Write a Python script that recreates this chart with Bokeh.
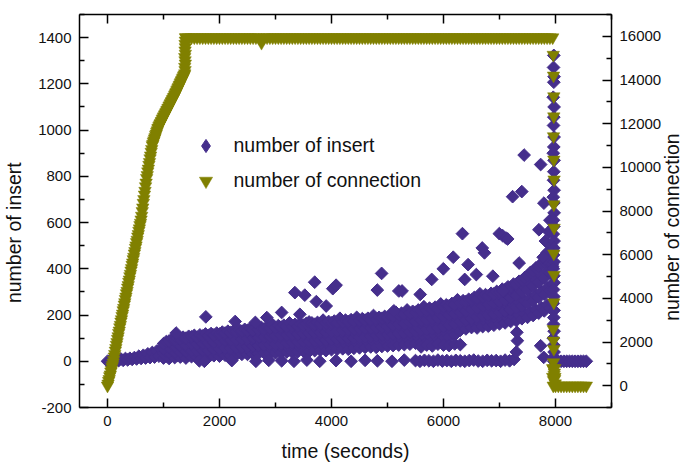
import math
from bokeh.plotting import figure
from bokeh.models import Range1d, LinearAxis, FixedTicker, Legend, LegendItem
from bokeh.embed import file_html
from bokeh.resources import INLINE

PURPLE = "#452e8c"
OLIVE = "#808000"
FONT = "Liberation Sans"
NBSP = "\u00a0"

# ---------------- number of connection (right axis) ----------------
conn_ramp_time = [0, 10, 20, 30, 40, 50, 60, 70, 80, 90, 100,
                  110, 120, 130, 140, 150, 160, 170, 180, 190, 200,
                  210, 220, 230, 240, 250, 260, 270, 280, 290, 300,
                  310, 320, 330, 340, 350, 360, 370, 380, 390, 400,
                  410, 420, 430, 440, 450, 460, 470, 480, 490, 500,
                  510, 520, 530, 540, 550, 560, 570, 580, 590, 600,
                  610, 620, 630, 640, 650, 660, 670, 680, 690, 700,
                  710, 720, 730, 740, 750, 760, 770, 780, 790, 800,
                  810, 820, 830, 840, 850, 860, 870, 880, 890, 900,
                  910, 920, 930, 940, 950, 960, 970, 980, 990, 1000,
                  1010, 1020, 1030, 1040, 1050, 1060, 1070, 1080, 1090, 1100,
                  1110, 1120, 1130, 1140, 1150, 1160, 1170, 1180, 1190, 1200,
                  1210, 1220, 1230, 1240, 1250, 1260, 1270, 1280, 1290, 1300,
                  1310, 1320, 1330, 1340, 1350, 1360, 1370, 1380,
                  1385, 1380, 1390, 1385, 1380, 1390, 1385, 1390, 1385, 1390, 1395]
conn_ramp_value = [0, 90, 215, 300, 430, 510, 640, 720, 850, 940, 1060,
                   1180, 1330, 1450, 1600, 1720, 1870, 1990, 2140, 2260, 2410,
                   2520, 2670, 2780, 2930, 3040, 3190, 3300, 3450, 3560, 3710,
                   3820, 3970, 4080, 4230, 4340, 4490, 4600, 4750, 4860, 5010,
                   5120, 5270, 5380, 5530, 5640, 5790, 5900, 6050, 6160, 6310,
                   6420, 6570, 6680, 6830, 6940, 7090, 7200, 7350, 7460, 7610,
                   7780, 7990, 8160, 8370, 8540, 8750, 8920, 9130, 9300, 9510,
                   9640, 9810, 9940, 10110, 10240, 10410, 10540, 10710, 10840, 11010,
                   11070, 11170, 11230, 11320, 11380, 11480, 11540, 11630, 11690, 11790,
                   11820, 11890, 11930, 12000, 12030, 12100, 12130, 12210, 12240, 12310,
                   12340, 12410, 12440, 12510, 12540, 12610, 12640, 12710, 12740, 12810,
                   12840, 12910, 12940, 13010, 13040, 13110, 13140, 13210, 13240, 13310,
                   13350, 13420, 13460, 13530, 13570, 13640, 13680, 13750, 13790, 13860,
                   13900, 13970, 14010, 14080, 14120, 14190, 14230, 14300,
                   14450, 14600, 14750, 14900, 15050, 15200, 15350, 15500, 15650, 15800, 15950]

conn_plateau_time = [1400, 1450, 1500, 1550, 1600, 1650, 1700, 1750, 1800, 1850,
                     1900, 1950, 2000, 2050, 2100, 2150, 2200, 2250, 2300, 2350,
                     2400, 2450, 2500, 2550, 2600, 2650, 2700, 2750, 2800, 2850,
                     2900, 2950, 3000, 3050, 3100, 3150, 3200, 3250, 3300, 3350,
                     3400, 3450, 3500, 3550, 3600, 3650, 3700, 3750, 3800, 3850,
                     3900, 3950, 4000, 4050, 4100, 4150, 4200, 4250, 4300, 4350,
                     4400, 4450, 4500, 4550, 4600, 4650, 4700, 4750, 4800, 4850,
                     4900, 4950, 5000, 5050, 5100, 5150, 5200, 5250, 5300, 5350,
                     5400, 5450, 5500, 5550, 5600, 5650, 5700, 5750, 5800, 5850,
                     5900, 5950, 6000, 6050, 6100, 6150, 6200, 6250, 6300, 6350,
                     6400, 6450, 6500, 6550, 6600, 6650, 6700, 6750, 6800, 6850,
                     6900, 6950, 7000, 7050, 7100, 7150, 7200, 7250, 7300, 7350,
                     7400, 7450, 7500, 7550, 7600, 7650, 7700, 7750, 7800, 7850,
                     7900, 7950]
conn_plateau_value = [15950, 15950, 15950, 15950, 15950, 15950, 15950, 15950, 15950, 15950,
                      15950, 15950, 15950, 15950, 15950, 15950, 15950, 15950, 15950, 15950,
                      15950, 15950, 15950, 15950, 15950, 15950, 15950, 15700, 15950, 15950,
                      15950, 15950, 15950, 15950, 15950, 15950, 15950, 15950, 15950, 15950,
                      15950, 15950, 15950, 15950, 15950, 15950, 15950, 15950, 15950, 15950,
                      15950, 15950, 15950, 15950, 15950, 15950, 15950, 15950, 15950, 15950,
                      15950, 15950, 15950, 15950, 15950, 15950, 15950, 15950, 15950, 15950,
                      15950, 15950, 15950, 15950, 15950, 15950, 15950, 15950, 15950, 15950,
                      15950, 15950, 15950, 15950, 15950, 15950, 15950, 15950, 15950, 15950,
                      15950, 15950, 15950, 15950, 15950, 15950, 15950, 15950, 15950, 15950,
                      15950, 15950, 15950, 15950, 15950, 15950, 15950, 15950, 15950, 15950,
                      15950, 15950, 15950, 15950, 15950, 15950, 15950, 15950, 15950, 15950,
                      15950, 15950, 15950, 15950, 15950, 15950, 15950, 15950, 15950, 15950,
                      15950, 15950]

conn_drop_time = [7960, 7965, 7970, 7970, 7965, 7970, 7975, 7970, 7975, 7970, 7975, 7970,
                  7960, 7965, 7970, 7965, 7960, 7975, 7965, 7960, 7980, 7985, 7950, 7990,
                  7950, 7990, 7995]
conn_drop_value = [15150, 14200, 13250, 12330, 11420, 10350, 9440, 8300, 7230, 6050, 5070, 3810,
                   2590, 2060, 1680, 1070, 760, 500, 250, 0, 600, 300, 800, 800,
                   400, 400, 100]

conn_end_time = [8000, 8050, 8100, 8150, 8200, 8250, 8300, 8350, 8400, 8450, 8500, 8550]
conn_end_value = [0, 0, 0, 0, 0, 0, 0, 0, 0, 0, 0, 0]

# ---------------- number of insert (left axis) ----------------
insert_early_time = [0, 40, 80, 120, 160, 200, 240, 280, 320, 360, 400, 440, 480,
                     520, 560, 600, 640, 680, 720, 760, 800, 840, 880, 920, 960]
insert_early_value = [0, 2, 5, 0, 8, 3, 10, 4, 12, 6, 13, 8, 16,
                      10, 22, 12, 26, 14, 32, 16, 38, 18, 44, 22, 52]

band_time = [1000, 1050, 1100, 1150, 1200, 1250, 1300, 1350, 1400, 1450,
             1500, 1550, 1600, 1650, 1700, 1750, 1800, 1850, 1900, 1950,
             2000, 2050, 2100, 2150, 2200, 2250, 2300, 2350, 2400, 2450,
             2500, 2550, 2600, 2650, 2700, 2750, 2800, 2850, 2900, 2950,
             3000, 3050, 3100, 3150, 3200, 3250, 3300, 3350, 3400, 3450,
             3500, 3550, 3600, 3650, 3700, 3750, 3800, 3850, 3900, 3950,
             4000, 4050, 4100, 4150, 4200, 4250, 4300, 4350, 4400, 4450,
             4500, 4550, 4600, 4650, 4700, 4750, 4800, 4850, 4900, 4950,
             5000, 5050, 5100, 5150, 5200, 5250, 5300, 5350, 5400, 5450,
             5500, 5550, 5600, 5650, 5700, 5750, 5800, 5850, 5900, 5950,
             6000, 6050, 6100, 6150, 6200, 6250, 6300, 6350, 6400, 6450,
             6500, 6550, 6600, 6650, 6700, 6750, 6800, 6850, 6900, 6950,
             7000, 7050, 7100, 7150, 7200, 7250, 7300, 7350, 7400, 7450,
             7500, 7550, 7600, 7650, 7700, 7750, 7800, 7850, 7900, 7950]
band_a = [14, 22, 12, 25, 16, 24, 18, 28, 14, 26,
          20, 30, 16, 28, 22, 32, 18, 30, 24, 34,
          22, 34, 26, 36, 24, 38, 28, 40, 30, 42,
          30, 44, 32, 46, 34, 48, 36, 50, 34, 50,
          36, 52, 38, 54, 40, 56, 38, 58, 42, 60,
          44, 62, 42, 64, 46, 66, 48, 68, 46, 70,
          50, 72, 52, 74, 54, 76, 52, 78, 56, 80,
          58, 82, 60, 84, 62, 86, 60, 88, 64, 90,
          66, 92, 68, 94, 70, 96, 72, 98, 74, 100,
          78, 104, 80, 108, 84, 110, 86, 114, 90, 118,
          100, 124, 106, 130, 114, 136, 134, 150, 140, 156,
          146, 162, 144, 166, 150, 170, 152, 174, 156, 178,
          162, 184, 166, 188, 172, 194, 176, 200, 184, 206,
          190, 214, 198, 222, 208, 232, 218, 244, 232, 256]
band_b = [35, 44, 38, 48, 40, 50, 42, 52, 45, 55,
          48, 58, 46, 56, 50, 60, 48, 62, 54, 64,
          55, 66, 58, 68, 56, 70, 60, 72, 62, 74,
          64, 78, 66, 80, 68, 82, 70, 84, 72, 86,
          74, 88, 76, 90, 78, 92, 80, 94, 82, 96,
          84, 98, 86, 100, 88, 102, 90, 104, 92, 106,
          94, 108, 96, 110, 98, 112, 100, 114, 102, 116,
          104, 118, 106, 120, 108, 122, 110, 124, 112, 126,
          114, 130, 116, 134, 120, 136, 122, 140, 126, 144,
          130, 148, 134, 152, 138, 156, 140, 160, 144, 164,
          150, 170, 156, 176, 162, 182, 172, 190, 178, 196,
          186, 202, 190, 208, 196, 214, 200, 220, 206, 226,
          212, 232, 218, 238, 224, 246, 232, 254, 240, 262,
          250, 274, 262, 288, 276, 302, 290, 318, 306, 334]
band_c = [55, 66, 60, 72, 66, 76, 70, 80, 72, 82,
          78, 86, 76, 88, 80, 90, 82, 92, 84, 96,
          88, 98, 90, 100, 92, 104, 94, 106, 96, 108,
          100, 112, 102, 114, 104, 116, 106, 118, 108, 120,
          110, 124, 112, 126, 114, 128, 116, 130, 118, 132,
          120, 134, 122, 136, 124, 138, 126, 140, 128, 142,
          130, 144, 132, 146, 134, 148, 136, 150, 138, 152,
          140, 154, 142, 156, 144, 158, 146, 160, 148, 162,
          152, 168, 156, 172, 160, 176, 164, 180, 168, 184,
          172, 190, 176, 194, 180, 198, 184, 202, 188, 206,
          194, 212, 200, 218, 206, 224, 212, 230, 218, 236,
          226, 244, 232, 250, 238, 256, 244, 262, 250, 270,
          258, 278, 266, 288, 276, 298, 286, 310, 298, 322,
          312, 336, 326, 352, 342, 370, 360, 392, 382, 410]
band_d = [76, 85, 88, 95, 92, 100, 96, 104, 100, 108,
          106, 112, 104, 114, 110, 118, 112, 120, 114, 122,
          118, 126, 122, 130, 124, 132, 128, 136, 130, 138,
          134, 142, 136, 150, 138, 146, 140, 148, 144, 158,
          146, 154, 148, 156, 150, 166, 152, 160, 154, 162,
          156, 164, 170, 166, 160, 168, 162, 178, 164, 172,
          166, 174, 168, 186, 170, 178, 172, 180, 174, 190,
          176, 184, 178, 186, 180, 198, 182, 190, 186, 194,
          190, 200, 196, 212, 200, 208, 204, 222, 208, 216,
          212, 222, 216, 236, 220, 230, 224, 234, 228, 248,
          236, 244, 240, 250, 246, 266, 252, 262, 258, 268,
          266, 276, 272, 292, 278, 288, 284, 294, 292, 302,
          300, 312, 310, 322, 320, 334, 334, 346, 350, 362,
          370, 384, 390, 404, 410, 424, 430, 444, 460, 476]

zero_row_time = [1640, 1730, 2220, 2650, 2880, 3110, 3330, 3560, 3790, 4080, 4350, 4600, 4820, 5080, 5300,
                 5500, 5580, 5660, 5740, 5820, 5900, 5980, 6060, 6140, 6220, 6300, 6380, 6460, 6540,
                 6620, 6700, 6780, 6860, 6940, 7020, 7100, 7180, 7260, 7300, 7320, 7310,
                 5600, 5700, 5800, 5900, 6000, 6100, 6200, 6300]
zero_row_value = [2, 0, 3, 0, 4, 2, 0, 5, 0, 3, 0, 4, 2, 0, 5,
                  3, 0, 4, 2, 0, 5, 1, 3, 0, 4, 2, 0, 3, 5,
                  1, 0, 4, 2, 3, 0, 5, 2, 8, 40, 89, 125,
                  62, 70, 66, 74, 70, 68, 75, 72]

outlier_time = [1226, 1756, 2280, 2640, 2845, 3110, 3346, 3435, 3523, 3700, 3729, 3905, 4023, 4082,
                4818, 4895, 5113, 5202, 5260, 5584, 5790, 5997, 6174, 6338, 6379, 6439, 6586, 6692,
                6732, 6881, 6997, 7057, 7057, 7116, 7146, 7234, 7351, 7398, 7440, 7704, 7735, 7793,
                7820, 7850, 7880, 7900, 7860, 7780, 7920, 7940, 7735, 7790]
outlier_value = [122, 192, 172, 168, 189, 211, 297, 203, 286, 342, 258, 239, 314, 329,
                 308, 380, 218, 304, 304, 289, 354, 400, 450, 552, 354, 418, 375, 490,
                 469, 368, 552, 543, 304, 533, 529, 712, 425, 734, 892, 569, 851, 684,
                 520, 470, 560, 610, 430, 450, 500, 420, 67, 17]

end_column_time = [7970, 7965, 7975, 7970, 7960, 7975, 7970, 7965, 7975, 7970, 7960, 7975, 7970,
                   7965, 7975, 7960, 7970, 7975, 7965, 7970, 7960, 7975, 7970, 7965, 7975, 7960,
                   7970, 7975, 7965, 7970, 7960, 7975, 7970, 7965, 7975, 7960, 7970, 7975, 7965, 7970]
end_column_value = [1323, 1271, 1231, 1207, 1142, 1100, 1056, 1020, 970, 927, 900, 869, 820,
                    783, 740, 710, 685, 642, 610, 583, 550, 520, 490, 460, 430, 400,
                    370, 340, 310, 280, 250, 220, 189, 160, 130, 100, 70, 40, 17, 0]

insert_end_time = [8000, 8050, 8100, 8150, 8200, 8250, 8300, 8350, 8400, 8450, 8500, 8550]
insert_end_value = [0, 0, 0, 0, 0, 0, 0, 0, 0, 0, 0, 0]

x_major = [0, 2000, 4000, 6000, 8000]
x_minor = [1000, 3000, 5000, 7000, 9000]
yl_major = [-200, 0, 200, 400, 600, 800, 1000, 1200, 1400]
yl_minor = [-100, 100, 300, 500, 700, 900, 1100, 1300, 1500]
yr_major = [0, 2000, 4000, 6000, 8000, 10000, 12000, 14000, 16000]
yr_minor = [-1000, 1000, 3000, 5000, 7000, 9000, 11000, 13000, 15000, 17000]

# assemble
insert_time = (insert_early_time + band_time * 4 + zero_row_time + outlier_time
               + end_column_time + insert_end_time)
insert_value = (insert_early_value + band_a + band_b + band_c + band_d
                + zero_row_value + outlier_value + end_column_value + insert_end_value)
conn_time = conn_ramp_time + conn_plateau_time + conn_drop_time + conn_end_time
conn_value = conn_ramp_value + conn_plateau_value + conn_drop_value + conn_end_value

p = figure(width=697, height=464, output_backend="svg", toolbar_location=None,
           x_range=Range1d(-500, 9000), y_range=Range1d(-200, 1500),
           min_border_left=79, min_border_right=80, min_border_top=14, min_border_bottom=55)
p.extra_y_ranges = {"conn": Range1d(-1000, 17000)}
p.outline_line_color = None
p.xgrid.visible = False
p.ygrid.visible = False
p.background_fill_color = "white"
p.border_fill_color = "white"


def style(ax, label_size="15px"):
    ax.axis_line_width = 1.5
    ax.axis_line_color = "black"
    ax.major_tick_line_width = 1.5
    ax.minor_tick_line_width = 1.5
    ax.major_tick_in = 9
    ax.major_tick_out = 0
    ax.minor_tick_in = 5
    ax.minor_tick_out = 0
    ax.major_label_text_font = FONT
    ax.major_label_text_font_size = label_size
    ax.major_label_text_color = "#111111"
    ax.major_label_standoff = 8
    ax.axis_label_text_font = FONT
    ax.axis_label_text_font_size = "19.5px"
    ax.axis_label_text_font_style = "normal"
    ax.axis_label_text_color = "#111111"


xa = p.xaxis[0]
xa.ticker = FixedTicker(ticks=x_major, minor_ticks=x_minor)
style(xa)
xa.axis_label = "time (seconds)"
xa.axis_label_standoff = 11

ya = p.yaxis[0]
ya.ticker = FixedTicker(ticks=yl_major, minor_ticks=yl_minor)
style(ya)
ya.major_label_overrides = {-200: "-200"}
ya.axis_label = "number of insert" + NBSP * 8
ya.axis_label_standoff = 10

ra = LinearAxis(y_range_name="conn", ticker=FixedTicker(ticks=yr_major, minor_ticks=yr_minor))
style(ra)
ra.axis_label_standoff = 8
axis_props = LinearAxis.properties()
if "axis_label_orientation" in axis_props and "axis_label_align" in axis_props:
    # read bottom-to-top, starting from the lower end of the axis
    ra.axis_label_orientation = math.pi / 2
    ra.axis_label_align = "start"
    ra.axis_label = NBSP * 16 + "number of connection"
else:
    ra.axis_label = "number of connection"
p.add_layout(ra, "right")

ta = LinearAxis(ticker=FixedTicker(ticks=x_major, minor_ticks=x_minor),
                major_label_overrides={0: "", 2000: "", 4000: "", 6000: "", 8000: ""})
style(ta, label_size="1px")
ta.major_label_standoff = 0
p.add_layout(ta, "above")

r_ins = p.scatter(insert_time, insert_value, marker="square", angle=math.pi / 4, size=9,
                  fill_color=PURPLE, line_color=PURPLE, line_width=1)
r_con = p.scatter(conn_time, conn_value, y_range_name="conn", marker="inverted_triangle", size=12.5,
                  fill_color=OLIVE, line_color=OLIVE, line_width=0.5)
# legend key for the insert series (legend glyphs cannot be rotated, so use a diamond key)
r_ins_key = p.scatter(insert_time[:1], insert_value[:1], marker="diamond", visible=False,
                      fill_color=PURPLE, line_color=PURPLE, line_width=1)

legend = Legend(items=[LegendItem(label="number of insert", renderers=[r_ins_key]),
                       LegendItem(label="number of connection", renderers=[r_con])],
                location=(109.5, 210.5), border_line_color=None, background_fill_alpha=0,
                glyph_width=33, glyph_height=33, label_height=33, label_standoff=12,
                padding=0, spacing=2, margin=0,
                label_text_font=FONT, label_text_font_size="19.5px", label_text_color="#111111")
p.add_layout(legend)

open("out.html", "w").write(file_html(p, INLINE))
